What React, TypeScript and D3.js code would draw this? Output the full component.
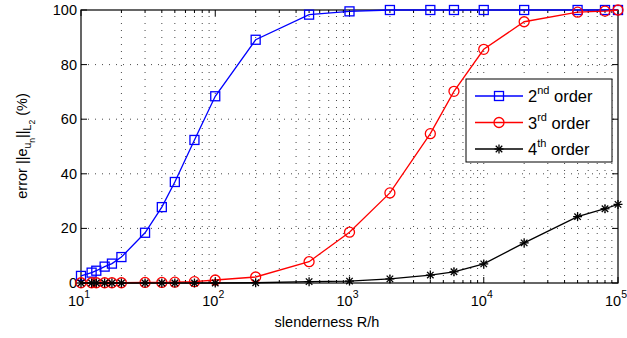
import React from "react";
import * as d3 from "d3";

const slenderness = [10, 12, 13, 15, 17, 20, 30, 40, 50, 70, 100, 200, 500, 1000, 2000, 4000, 6000, 10000, 20000, 50000, 80000, 100000];
const order2 = [2.6, 3.8, 4.5, 6.0, 7.1, 9.5, 18.4, 27.8, 37.0, 52.4, 68.4, 89.1, 98.3, 99.5, 100, 100, 100, 100, 100, 100, 100, 100];
const order3 = [0.1, 0.1, 0.1, 0.1, 0.1, 0.1, 0.2, 0.2, 0.3, 0.5, 1.1, 2.2, 7.8, 18.6, 33.0, 54.7, 70.2, 85.6, 95.7, 99.2, 99.6, 100];
const order4 = [0, 0, 0, 0, 0, 0, 0, 0, 0, 0, 0, 0.1, 0.5, 0.7, 1.5, 2.9, 4.1, 7.0, 14.7, 24.3, 27.2, 28.8];
const yTicks = [0, 20, 40, 60, 80, 100];
const xDecades = [1, 2, 3, 4, 5];
const seriesNames = ["2", "3", "4"];
const seriesSups = ["nd", "rd", "th"];

const W = 627, H = 338;
const L = 81, R = 618, T = 10, B = 283;
const FONT = "'Liberation Sans', Arial, Helvetica, sans-serif";

function Marker({ kind, x, y, color }: { kind: string; x: number; y: number; color: string }) {
  if (kind === "square") {
    return <rect x={x - 4.5} y={y - 4.5} width={9} height={9} fill="none" stroke={color} strokeWidth={1.3} />;
  }
  if (kind === "circle") {
    return <circle cx={x} cy={y} r={5} fill="none" stroke={color} strokeWidth={1.3} />;
  }
  const s = 4.5;
  const d = s * 0.72;
  return (
    <g stroke={color} strokeWidth={1.3}>
      <line x1={x} y1={y - s} x2={x} y2={y + s} />
      <line x1={x - d} y1={y - d} x2={x + d} y2={y + d} />
      <line x1={x - d} y1={y + d} x2={x + d} y2={y - d} />
      <line x1={x - s} y1={y} x2={x + s} y2={y} />
    </g>
  );
}

export default function App() {
  const x = d3.scaleLog().domain([10, 1e5]).range([L, R]);
  const y = d3.scaleLinear().domain([0, 100]).range([B, T]);
  const line = d3.line<[number, number]>().x((d) => x(d[0])).y((d) => y(d[1]));

  const series = [
    { vals: order2, color: "#0000ff", kind: "square" },
    { vals: order3, color: "#ff0000", kind: "circle" },
    { vals: order4, color: "#000000", kind: "star" },
  ];

  const minor: number[] = [];
  for (let k = 1; k < 5; k++) for (let m = 2; m <= 9; m++) minor.push(m * Math.pow(10, k));
  const majors = xDecades.map((k) => Math.pow(10, k));

  return (
    <svg width={W} height={H} style={{ position: "fixed", left: 0, top: 0, background: "#fff" }} fontFamily={FONT}>
      <rect x={0} y={0} width={W} height={H} fill="#fff" />
      {/* grid */}
      <g stroke="#333" strokeWidth={0.9} strokeDasharray="1,6">
        {[...minor, ...majors.slice(1, -1)].map((v, i) => (
          <line key={"gx" + i} x1={x(v)} x2={x(v)} y1={B} y2={T} />
        ))}
        {yTicks.slice(1, -1).map((v) => (
          <line key={"gy" + v} x1={L} x2={R} y1={y(v)} y2={y(v)} />
        ))}
      </g>
      {/* ticks */}
      <g stroke="#000" strokeWidth={1}>
        {majors.map((v) => (
          <g key={"mt" + v}>
            <line x1={x(v)} x2={x(v)} y1={B} y2={B - 6} />
            <line x1={x(v)} x2={x(v)} y1={T} y2={T + 6} />
          </g>
        ))}
        {minor.map((v) => (
          <g key={"mn" + v}>
            <line x1={x(v)} x2={x(v)} y1={B} y2={B - 3} />
            <line x1={x(v)} x2={x(v)} y1={T} y2={T + 3} />
          </g>
        ))}
        {yTicks.map((v) => (
          <g key={"yt" + v}>
            <line x1={L} x2={L + 6} y1={y(v)} y2={y(v)} />
            <line x1={R} x2={R - 6} y1={y(v)} y2={y(v)} />
          </g>
        ))}
      </g>
      <rect x={L} y={T} width={R - L} height={B - T} fill="none" stroke="#000" strokeWidth={1.2} />
      {/* tick labels */}
      <g fontSize={14.5} fill="#000">
        {yTicks.map((v) => (
          <text key={"yl" + v} x={L - 4} y={y(v) + 5} textAnchor="end">{v}</text>
        ))}
        {xDecades.map((k) => (
          <text key={"xl" + k} x={x(Math.pow(10, k)) - 2} y={306} textAnchor="middle">
            10<tspan fontSize={10.5} dy={-8}>{k}</tspan>
          </text>
        ))}
      </g>
      {/* series */}
      {series.map((s, si) => {
        const pts: [number, number][] = slenderness.map((v, i) => [v, s.vals[i]]);
        return (
          <g key={"s" + si}>
            <path d={line(pts) || ""} fill="none" stroke={s.color} strokeWidth={1.3} />
            {pts.map((p, i) => (
              <Marker key={i} kind={s.kind} x={x(p[0])} y={y(p[1])} color={s.color} />
            ))}
          </g>
        );
      })}
      {/* labels */}
      <text x={327} y={327} textAnchor="middle" fontSize={14.5}>slenderness R/h</text>
      <text transform="translate(27,146) rotate(-90)" textAnchor="middle" fontSize={14.5}>
        error ||e<tspan fontSize={10.5} dy={4}>u</tspan><tspan fontSize={8.5} dy={4}>n</tspan>
        <tspan dy={-8}>||</tspan><tspan fontSize={10.5} dy={4}>L</tspan><tspan fontSize={8.5} dy={4}>2</tspan>
        <tspan dy={-8}> (%)</tspan>
      </text>
      {/* legend */}
      <rect x={466} y={79} width={146} height={83} fill="#fff" stroke="#000" strokeWidth={1} />
      {series.map((s, i) => {
        const ly = 96 + i * 26.5;
        return (
          <g key={"lg" + i}>
            <line x1={475} x2={523} y1={ly} y2={ly} stroke={s.color} strokeWidth={1.3} />
            <Marker kind={s.kind} x={499} y={ly} color={s.color} />
            <text x={528} y={ly + 6} fontSize={16.5}>
              {seriesNames[i]}<tspan fontSize={11} dy={-8}>{seriesSups[i]}</tspan><tspan dy={8}> order</tspan>
            </text>
          </g>
        );
      })}
    </svg>
  );
}
